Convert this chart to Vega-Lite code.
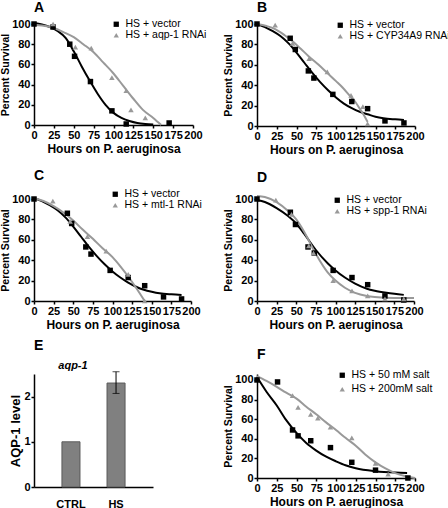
{
"$schema":"https://vega.github.io/schema/vega-lite/v6.json",
"padding":{"left":0,"top":1,"right":0,"bottom":0},
"background":"white",
"columns":2,
"spacing":{"row":73,"column":64},
"bounds":"flush",
"resolve":{"scale":{"color":"independent","shape":"independent","stroke":"independent","x":"independent","y":"independent"},"legend":{"color":"independent","shape":"independent","stroke":"independent"}},
"datasets":{
"dA":[
{"s":"HS + vector","k":"obs","x":0,"y":100},{"s":"HS + vector","k":"obs","x":24,"y":97},{"s":"HS + vector","k":"obs","x":45,"y":80},{"s":"HS + vector","k":"obs","x":51,"y":68},{"s":"HS + vector","k":"obs","x":71,"y":43},{"s":"HS + vector","k":"obs","x":98,"y":14},{"s":"HS + vector","k":"obs","x":116,"y":1},{"s":"HS + vector","k":"obs","x":170,"y":2},
{"s":"HS + aqp-1 RNAi","k":"obs","x":24,"y":100},{"s":"HS + aqp-1 RNAi","k":"obs","x":52,"y":77},{"s":"HS + aqp-1 RNAi","k":"obs","x":72,"y":76},{"s":"HS + aqp-1 RNAi","k":"obs","x":98,"y":47},{"s":"HS + aqp-1 RNAi","k":"obs","x":116,"y":34},{"s":"HS + aqp-1 RNAi","k":"obs","x":122,"y":15},{"s":"HS + aqp-1 RNAi","k":"obs","x":140,"y":7},
{"s":"HS + vector","k":"fit","x":0,"y":101},{"s":"HS + vector","k":"fit","x":10,"y":99.5},{"s":"HS + vector","k":"fit","x":20,"y":97},{"s":"HS + vector","k":"fit","x":30,"y":93},{"s":"HS + vector","k":"fit","x":40,"y":86},{"s":"HS + vector","k":"fit","x":50,"y":73},{"s":"HS + vector","k":"fit","x":60,"y":58},{"s":"HS + vector","k":"fit","x":70,"y":44},{"s":"HS + vector","k":"fit","x":80,"y":31},{"s":"HS + vector","k":"fit","x":90,"y":20},{"s":"HS + vector","k":"fit","x":100,"y":12},{"s":"HS + vector","k":"fit","x":110,"y":7},{"s":"HS + vector","k":"fit","x":120,"y":4},{"s":"HS + vector","k":"fit","x":130,"y":2},{"s":"HS + vector","k":"fit","x":140,"y":1},{"s":"HS + vector","k":"fit","x":150,"y":0.5},
{"s":"HS + aqp-1 RNAi","k":"fit","x":0,"y":99},{"s":"HS + aqp-1 RNAi","k":"fit","x":10,"y":98.5},{"s":"HS + aqp-1 RNAi","k":"fit","x":25,"y":96},{"s":"HS + aqp-1 RNAi","k":"fit","x":37,"y":92},{"s":"HS + aqp-1 RNAi","k":"fit","x":50,"y":87},{"s":"HS + aqp-1 RNAi","k":"fit","x":62,"y":80},{"s":"HS + aqp-1 RNAi","k":"fit","x":75,"y":72},{"s":"HS + aqp-1 RNAi","k":"fit","x":87,"y":62},{"s":"HS + aqp-1 RNAi","k":"fit","x":100,"y":51},{"s":"HS + aqp-1 RNAi","k":"fit","x":112,"y":39},{"s":"HS + aqp-1 RNAi","k":"fit","x":125,"y":26},{"s":"HS + aqp-1 RNAi","k":"fit","x":137,"y":15},{"s":"HS + aqp-1 RNAi","k":"fit","x":150,"y":7},{"s":"HS + aqp-1 RNAi","k":"fit","x":160,"y":0}
],
"dB":[
{"s":"HS + vector","k":"obs","x":0,"y":100},{"s":"HS + vector","k":"obs","x":42,"y":86},{"s":"HS + vector","k":"obs","x":48.5,"y":75},{"s":"HS + vector","k":"obs","x":65,"y":54},{"s":"HS + vector","k":"obs","x":72,"y":47},{"s":"HS + vector","k":"obs","x":96,"y":31},{"s":"HS + vector","k":"obs","x":120,"y":24},{"s":"HS + vector","k":"obs","x":140,"y":17},{"s":"HS + vector","k":"obs","x":162,"y":5},{"s":"HS + vector","k":"obs","x":186,"y":3},
{"s":"HS + CYP34A9 RNAi","k":"obs","x":23,"y":99},{"s":"HS + CYP34A9 RNAi","k":"obs","x":45,"y":81},{"s":"HS + CYP34A9 RNAi","k":"obs","x":66,"y":66},{"s":"HS + CYP34A9 RNAi","k":"obs","x":89,"y":53},{"s":"HS + CYP34A9 RNAi","k":"obs","x":119,"y":30},{"s":"HS + CYP34A9 RNAi","k":"obs","x":134,"y":19},{"s":"HS + CYP34A9 RNAi","k":"obs","x":140,"y":2},
{"s":"HS + vector","k":"fit","x":0,"y":100},{"s":"HS + vector","k":"fit","x":10,"y":97},{"s":"HS + vector","k":"fit","x":20,"y":93},{"s":"HS + vector","k":"fit","x":30,"y":88},{"s":"HS + vector","k":"fit","x":40,"y":81},{"s":"HS + vector","k":"fit","x":50,"y":72},{"s":"HS + vector","k":"fit","x":60,"y":62},{"s":"HS + vector","k":"fit","x":70,"y":52},{"s":"HS + vector","k":"fit","x":80,"y":43},{"s":"HS + vector","k":"fit","x":90,"y":35},{"s":"HS + vector","k":"fit","x":100,"y":28},{"s":"HS + vector","k":"fit","x":110,"y":22},{"s":"HS + vector","k":"fit","x":120,"y":17.5},{"s":"HS + vector","k":"fit","x":130,"y":14},{"s":"HS + vector","k":"fit","x":140,"y":11.5},{"s":"HS + vector","k":"fit","x":150,"y":9},{"s":"HS + vector","k":"fit","x":160,"y":7.5},{"s":"HS + vector","k":"fit","x":175,"y":6.5},{"s":"HS + vector","k":"fit","x":186,"y":6},
{"s":"HS + CYP34A9 RNAi","k":"fit","x":0,"y":100},{"s":"HS + CYP34A9 RNAi","k":"fit","x":12,"y":98},{"s":"HS + CYP34A9 RNAi","k":"fit","x":23,"y":95},{"s":"HS + CYP34A9 RNAi","k":"fit","x":35,"y":89},{"s":"HS + CYP34A9 RNAi","k":"fit","x":45,"y":83},{"s":"HS + CYP34A9 RNAi","k":"fit","x":55,"y":76},{"s":"HS + CYP34A9 RNAi","k":"fit","x":66,"y":68},{"s":"HS + CYP34A9 RNAi","k":"fit","x":78,"y":60},{"s":"HS + CYP34A9 RNAi","k":"fit","x":89,"y":52},{"s":"HS + CYP34A9 RNAi","k":"fit","x":100,"y":44},{"s":"HS + CYP34A9 RNAi","k":"fit","x":108,"y":38},{"s":"HS + CYP34A9 RNAi","k":"fit","x":117,"y":30},{"s":"HS + CYP34A9 RNAi","k":"fit","x":125,"y":23},{"s":"HS + CYP34A9 RNAi","k":"fit","x":130,"y":17},{"s":"HS + CYP34A9 RNAi","k":"fit","x":135,"y":11},{"s":"HS + CYP34A9 RNAi","k":"fit","x":140,"y":4}
],
"dC":[
{"s":"HS + vector","k":"obs","x":0,"y":100},{"s":"HS + vector","k":"obs","x":42.5,"y":86},{"s":"HS + vector","k":"obs","x":48,"y":76},{"s":"HS + vector","k":"obs","x":66,"y":53},{"s":"HS + vector","k":"obs","x":72.6,"y":46},{"s":"HS + vector","k":"obs","x":97,"y":30},{"s":"HS + vector","k":"obs","x":120,"y":23},{"s":"HS + vector","k":"obs","x":141,"y":15},{"s":"HS + vector","k":"obs","x":165,"y":4},{"s":"HS + vector","k":"obs","x":188,"y":2},
{"s":"HS + mtl-1 RNAi","k":"obs","x":24,"y":98},{"s":"HS + mtl-1 RNAi","k":"obs","x":46,"y":78},{"s":"HS + mtl-1 RNAi","k":"obs","x":68,"y":63},{"s":"HS + mtl-1 RNAi","k":"obs","x":92,"y":49},{"s":"HS + mtl-1 RNAi","k":"obs","x":120,"y":26},{"s":"HS + mtl-1 RNAi","k":"obs","x":141,"y":0},
{"s":"HS + vector","k":"fit","x":0,"y":101},{"s":"HS + vector","k":"fit","x":10,"y":98},{"s":"HS + vector","k":"fit","x":20,"y":94},{"s":"HS + vector","k":"fit","x":30,"y":89},{"s":"HS + vector","k":"fit","x":40,"y":82},{"s":"HS + vector","k":"fit","x":50,"y":73},{"s":"HS + vector","k":"fit","x":60,"y":63},{"s":"HS + vector","k":"fit","x":70,"y":53},{"s":"HS + vector","k":"fit","x":80,"y":44},{"s":"HS + vector","k":"fit","x":90,"y":36},{"s":"HS + vector","k":"fit","x":100,"y":29},{"s":"HS + vector","k":"fit","x":110,"y":23},{"s":"HS + vector","k":"fit","x":120,"y":18},{"s":"HS + vector","k":"fit","x":130,"y":14},{"s":"HS + vector","k":"fit","x":140,"y":11},{"s":"HS + vector","k":"fit","x":150,"y":9},{"s":"HS + vector","k":"fit","x":160,"y":7.5},{"s":"HS + vector","k":"fit","x":175,"y":6.5},{"s":"HS + vector","k":"fit","x":188,"y":6},
{"s":"HS + mtl-1 RNAi","k":"fit","x":0,"y":101},{"s":"HS + mtl-1 RNAi","k":"fit","x":12,"y":98},{"s":"HS + mtl-1 RNAi","k":"fit","x":25,"y":93},{"s":"HS + mtl-1 RNAi","k":"fit","x":37,"y":87},{"s":"HS + mtl-1 RNAi","k":"fit","x":50,"y":79},{"s":"HS + mtl-1 RNAi","k":"fit","x":62,"y":70},{"s":"HS + mtl-1 RNAi","k":"fit","x":75,"y":61},{"s":"HS + mtl-1 RNAi","k":"fit","x":87,"y":52},{"s":"HS + mtl-1 RNAi","k":"fit","x":100,"y":43},{"s":"HS + mtl-1 RNAi","k":"fit","x":110,"y":34},{"s":"HS + mtl-1 RNAi","k":"fit","x":120,"y":24},{"s":"HS + mtl-1 RNAi","k":"fit","x":130,"y":13},{"s":"HS + mtl-1 RNAi","k":"fit","x":141,"y":0}
],
"dD":[
{"s":"HS + vector","k":"obs","x":0,"y":100},{"s":"HS + vector","k":"obs","x":42.5,"y":87},{"s":"HS + vector","k":"obs","x":49,"y":75},{"s":"HS + vector","k":"obs","x":65,"y":53},{"s":"HS + vector","k":"obs","x":73,"y":47},{"s":"HS + vector","k":"obs","x":97,"y":30},{"s":"HS + vector","k":"obs","x":121,"y":23},{"s":"HS + vector","k":"obs","x":141,"y":16},{"s":"HS + vector","k":"obs","x":163,"y":5},{"s":"HS + vector","k":"obs","x":187,"y":1},
{"s":"HS + spp-1 RNAi","k":"obs","x":24,"y":99},{"s":"HS + spp-1 RNAi","k":"obs","x":44,"y":85},{"s":"HS + spp-1 RNAi","k":"obs","x":66,"y":54},{"s":"HS + spp-1 RNAi","k":"obs","x":72,"y":47},{"s":"HS + spp-1 RNAi","k":"obs","x":97,"y":20},{"s":"HS + spp-1 RNAi","k":"obs","x":121,"y":10},{"s":"HS + spp-1 RNAi","k":"obs","x":141,"y":5},{"s":"HS + spp-1 RNAi","k":"obs","x":163,"y":2},{"s":"HS + spp-1 RNAi","k":"obs","x":187,"y":2},
{"s":"HS + vector","k":"fit","x":0,"y":99},{"s":"HS + vector","k":"fit","x":10,"y":97},{"s":"HS + vector","k":"fit","x":25,"y":91},{"s":"HS + vector","k":"fit","x":40,"y":83},{"s":"HS + vector","k":"fit","x":50,"y":76},{"s":"HS + vector","k":"fit","x":60,"y":66},{"s":"HS + vector","k":"fit","x":75,"y":50},{"s":"HS + vector","k":"fit","x":90,"y":37},{"s":"HS + vector","k":"fit","x":100,"y":30},{"s":"HS + vector","k":"fit","x":112,"y":23},{"s":"HS + vector","k":"fit","x":125,"y":17},{"s":"HS + vector","k":"fit","x":140,"y":12},{"s":"HS + vector","k":"fit","x":150,"y":10},{"s":"HS + vector","k":"fit","x":165,"y":8},{"s":"HS + vector","k":"fit","x":175,"y":7},{"s":"HS + vector","k":"fit","x":187,"y":6},
{"s":"HS + spp-1 RNAi","k":"fit","x":0,"y":103},{"s":"HS + spp-1 RNAi","k":"fit","x":10,"y":102},{"s":"HS + spp-1 RNAi","k":"fit","x":25,"y":97},{"s":"HS + spp-1 RNAi","k":"fit","x":40,"y":88},{"s":"HS + spp-1 RNAi","k":"fit","x":50,"y":80},{"s":"HS + spp-1 RNAi","k":"fit","x":60,"y":68},{"s":"HS + spp-1 RNAi","k":"fit","x":75,"y":46},{"s":"HS + spp-1 RNAi","k":"fit","x":90,"y":28},{"s":"HS + spp-1 RNAi","k":"fit","x":100,"y":20},{"s":"HS + spp-1 RNAi","k":"fit","x":112,"y":13},{"s":"HS + spp-1 RNAi","k":"fit","x":125,"y":8},{"s":"HS + spp-1 RNAi","k":"fit","x":140,"y":5},{"s":"HS + spp-1 RNAi","k":"fit","x":150,"y":4},{"s":"HS + spp-1 RNAi","k":"fit","x":175,"y":3},{"s":"HS + spp-1 RNAi","k":"fit","x":200,"y":3}
],
"dF":[
{"s":"HS + 50 mM salt","k":"obs","x":0,"y":100},{"s":"HS + 50 mM salt","k":"obs","x":26,"y":98},{"s":"HS + 50 mM salt","k":"obs","x":45,"y":49},{"s":"HS + 50 mM salt","k":"obs","x":52,"y":43},{"s":"HS + 50 mM salt","k":"obs","x":68,"y":38},{"s":"HS + 50 mM salt","k":"obs","x":93,"y":31},{"s":"HS + 50 mM salt","k":"obs","x":120,"y":16},{"s":"HS + 50 mM salt","k":"obs","x":150,"y":8},{"s":"HS + 50 mM salt","k":"obs","x":191,"y":0},
{"s":"HS + 200mM salt","k":"obs","x":45,"y":84},{"s":"HS + 200mM salt","k":"obs","x":52,"y":72},{"s":"HS + 200mM salt","k":"obs","x":68,"y":65},{"s":"HS + 200mM salt","k":"obs","x":77,"y":61},{"s":"HS + 200mM salt","k":"obs","x":93,"y":52},{"s":"HS + 200mM salt","k":"obs","x":120,"y":41},{"s":"HS + 200mM salt","k":"obs","x":150,"y":15},{"s":"HS + 200mM salt","k":"obs","x":166,"y":4},
{"s":"HS + 50 mM salt","k":"fit","x":0,"y":103},{"s":"HS + 50 mM salt","k":"fit","x":12,"y":88},{"s":"HS + 50 mM salt","k":"fit","x":25,"y":74},{"s":"HS + 50 mM salt","k":"fit","x":37,"y":59},{"s":"HS + 50 mM salt","k":"fit","x":50,"y":46},{"s":"HS + 50 mM salt","k":"fit","x":62,"y":36},{"s":"HS + 50 mM salt","k":"fit","x":75,"y":28},{"s":"HS + 50 mM salt","k":"fit","x":87,"y":22},{"s":"HS + 50 mM salt","k":"fit","x":100,"y":17},{"s":"HS + 50 mM salt","k":"fit","x":112,"y":13},{"s":"HS + 50 mM salt","k":"fit","x":125,"y":10},{"s":"HS + 50 mM salt","k":"fit","x":150,"y":7},{"s":"HS + 50 mM salt","k":"fit","x":175,"y":5.5},{"s":"HS + 50 mM salt","k":"fit","x":190,"y":5},
{"s":"HS + 200mM salt","k":"fit","x":0,"y":104},{"s":"HS + 200mM salt","k":"fit","x":12,"y":99},{"s":"HS + 200mM salt","k":"fit","x":25,"y":93},{"s":"HS + 200mM salt","k":"fit","x":37,"y":87},{"s":"HS + 200mM salt","k":"fit","x":50,"y":81},{"s":"HS + 200mM salt","k":"fit","x":62,"y":73},{"s":"HS + 200mM salt","k":"fit","x":75,"y":65},{"s":"HS + 200mM salt","k":"fit","x":87,"y":57},{"s":"HS + 200mM salt","k":"fit","x":100,"y":49},{"s":"HS + 200mM salt","k":"fit","x":112,"y":41},{"s":"HS + 200mM salt","k":"fit","x":125,"y":33},{"s":"HS + 200mM salt","k":"fit","x":137,"y":24},{"s":"HS + 200mM salt","k":"fit","x":150,"y":16},{"s":"HS + 200mM salt","k":"fit","x":162,"y":10},{"s":"HS + 200mM salt","k":"fit","x":175,"y":5},{"s":"HS + 200mM salt","k":"fit","x":187,"y":2},{"s":"HS + 200mM salt","k":"fit","x":200,"y":0}
]
},
"concat":[
{"title":{"text":"A","offset":3},"width":159,"height":101,"data":{"name":"dA"},
 "encoding":{"x":{"field":"x","type":"quantitative","scale":{"domain":[0,200],"nice":false},"axis":{"values":[0,25,50,75,100,125,150,175,200],"title":"Hours on P. aeruginosa"}},
  "y":{"field":"y","type":"quantitative","scale":{"domain":[0,100],"nice":false},"axis":{"values":[0,20,40,60,80,100],"title":"Percent Survival"}}},
 "layer":[
  {"transform":[{"filter":"datum.k=='fit'"}],"mark":{"type":"line","interpolate":"monotone","strokeWidth":2},
   "encoding":{"stroke":{"field":"s","type":"nominal","scale":{"domain":["HS + aqp-1 RNAi","HS + vector"],"range":["#999999","#000000"]},"legend":null}}},
  {"transform":[{"filter":"datum.k=='obs'"}],"mark":{"type":"point","filled":true,"opacity":1,"size":30},
   "encoding":{"color":{"field":"s","type":"nominal","scale":{"domain":["HS + vector","HS + aqp-1 RNAi"],"range":["#000000","#999999"]},"legend":{"title":null,"orient":"none","legendX":77,"legendY":-5}},
    "shape":{"field":"s","type":"nominal","scale":{"domain":["HS + vector","HS + aqp-1 RNAi"],"range":["square","triangle-up"]},"legend":{"title":null,"orient":"none","legendX":77,"legendY":-5}}}}
 ]},
{"title":{"text":"B","offset":3},"width":158,"height":102,"data":{"name":"dB"},
 "encoding":{"x":{"field":"x","type":"quantitative","scale":{"domain":[0,200],"nice":false},"axis":{"values":[0,25,50,75,100,125,150,175,200],"title":"Hours on P. aeruginosa"}},
  "y":{"field":"y","type":"quantitative","scale":{"domain":[0,100],"nice":false},"axis":{"values":[0,20,40,60,80,100],"title":"Percent Survival"}}},
 "layer":[
  {"transform":[{"filter":"datum.k=='fit'"}],"mark":{"type":"line","interpolate":"monotone","strokeWidth":2},
   "encoding":{"stroke":{"field":"s","type":"nominal","scale":{"domain":["HS + CYP34A9 RNAi","HS + vector"],"range":["#999999","#000000"]},"legend":null}}},
  {"transform":[{"filter":"datum.k=='obs'"}],"mark":{"type":"point","filled":true,"opacity":1,"size":30},
   "encoding":{"color":{"field":"s","type":"nominal","scale":{"domain":["HS + vector","HS + CYP34A9 RNAi"],"range":["#000000","#999999"]},"legend":{"title":null,"orient":"none","legendX":78,"legendY":-4}},
    "shape":{"field":"s","type":"nominal","scale":{"domain":["HS + vector","HS + CYP34A9 RNAi"],"range":["square","triangle-up"]},"legend":{"title":null,"orient":"none","legendX":78,"legendY":-4}}}}
 ]},
{"title":{"text":"C","offset":6},"width":157,"height":102,"data":{"name":"dC"},
 "encoding":{"x":{"field":"x","type":"quantitative","scale":{"domain":[0,200],"nice":false},"axis":{"values":[0,25,50,75,100,125,150,175,200],"title":"Hours on P. aeruginosa"}},
  "y":{"field":"y","type":"quantitative","scale":{"domain":[0,100],"nice":false},"axis":{"values":[0,20,40,60,80,100],"title":"Percent Survival"}}},
 "layer":[
  {"transform":[{"filter":"datum.k=='fit'"}],"mark":{"type":"line","interpolate":"monotone","strokeWidth":2},
   "encoding":{"stroke":{"field":"s","type":"nominal","scale":{"domain":["HS + mtl-1 RNAi","HS + vector"],"range":["#999999","#000000"]},"legend":null}}},
  {"transform":[{"filter":"datum.k=='obs'"}],"mark":{"type":"point","filled":true,"opacity":1,"size":30},
   "encoding":{"color":{"field":"s","type":"nominal","scale":{"domain":["HS + vector","HS + mtl-1 RNAi"],"range":["#000000","#999999"]},"legend":{"title":null,"orient":"none","legendX":76,"legendY":-10}},
    "shape":{"field":"s","type":"nominal","scale":{"domain":["HS + vector","HS + mtl-1 RNAi"],"range":["square","triangle-up"]},"legend":{"title":null,"orient":"none","legendX":76,"legendY":-10}}}}
 ]},
{"title":{"text":"D","offset":7},"width":157,"height":102,"data":{"name":"dD"},
 "encoding":{"x":{"field":"x","type":"quantitative","scale":{"domain":[0,200],"nice":false},"axis":{"values":[0,25,50,75,100,125,150,175,200],"title":"Hours on P. aeruginosa"}},
  "y":{"field":"y","type":"quantitative","scale":{"domain":[0,100],"nice":false},"axis":{"values":[0,20,40,60,80,100],"title":"Percent Survival"}}},
 "layer":[
  {"transform":[{"filter":"datum.k=='fit'"}],"mark":{"type":"line","interpolate":"monotone","strokeWidth":2},
   "encoding":{"stroke":{"field":"s","type":"nominal","scale":{"domain":["HS + spp-1 RNAi","HS + vector"],"range":["#999999","#000000"]},"legend":null}}},
  {"transform":[{"filter":"datum.k=='obs'"}],"mark":{"type":"point","filled":true,"opacity":1,"size":30},
   "encoding":{"color":{"field":"s","type":"nominal","scale":{"domain":["HS + vector","HS + spp-1 RNAi"],"range":["#000000","#999999"]},"legend":{"title":null,"orient":"none","legendX":75,"legendY":-4}},
    "shape":{"field":"s","type":"nominal","scale":{"domain":["HS + vector","HS + spp-1 RNAi"],"range":["square","triangle-up"]},"legend":{"title":null,"orient":"none","legendX":75,"legendY":-4}}}}
 ]},
{"title":{"text":"E","offset":7},"width":119,"height":113,
 "layer":[
  {"data":{"values":[{"cat":"CTRL","v":1},{"cat":"HS","v":2.3}]},
   "mark":{"type":"bar","fill":"#808080","stroke":"#5a5a5a","strokeWidth":1},
   "encoding":{"x":{"field":"cat","type":"nominal","sort":null,"scale":{"paddingInner":0.6,"paddingOuter":0.62},"axis":{"title":null,"ticks":false,"labelPadding":11,"labelAngle":0}},
    "y":{"field":"v","type":"quantitative","scale":{"domain":[0,2.5],"nice":false},"axis":{"values":[0,0.5,1,1.5,2,2.5],"title":"AQP-1 level","titleFontSize":13,"labelExpr":"'' + datum.value"}}}},
  {"data":{"values":[{"cat":"HS","lo":2.07,"hi":2.55}]},
   "mark":{"type":"rule","color":"black","strokeWidth":1},
   "encoding":{"x":{"field":"cat","type":"nominal"},"y":{"field":"lo","type":"quantitative"},"y2":{"field":"hi"}}},
  {"data":{"values":[{"cat":"HS","e":2.07},{"cat":"HS","e":2.55}]},
   "mark":{"type":"tick","color":"black","size":7,"thickness":1,"orient":"horizontal"},
   "encoding":{"x":{"field":"cat","type":"nominal"},"y":{"field":"e","type":"quantitative"}}},
  {"data":{"values":[{"cat":"CTRL","v":2.68,"label":"aqp-1"}]},
   "mark":{"type":"text","fontStyle":"italic","fontWeight":"bold","fontSize":11,"dx":2,"color":"black"},
   "encoding":{"x":{"field":"cat","type":"nominal"},"y":{"field":"v","type":"quantitative"},"text":{"field":"label"}}}
 ]},
{"title":{"text":"F","offset":8},"width":158,"height":104,"data":{"name":"dF"},
 "encoding":{"x":{"field":"x","type":"quantitative","scale":{"domain":[0,200],"nice":false},"axis":{"values":[0,25,50,75,100,125,150,175,200],"title":"Hours on P. aeruginosa"}},
  "y":{"field":"y","type":"quantitative","scale":{"domain":[0,106.1],"nice":false},"axis":{"values":[0,20,40,60,80,100],"title":"Percent Survival"}}},
 "layer":[
  {"transform":[{"filter":"datum.k=='fit'"}],"mark":{"type":"line","interpolate":"monotone","strokeWidth":2},
   "encoding":{"stroke":{"field":"s","type":"nominal","scale":{"domain":["HS + 200mM salt","HS + 50 mM salt"],"range":["#999999","#000000"]},"legend":null}}},
  {"transform":[{"filter":"datum.k=='obs'"}],"mark":{"type":"point","filled":true,"opacity":1,"size":30},
   "encoding":{"color":{"field":"s","type":"nominal","scale":{"domain":["HS + 50 mM salt","HS + 200mM salt"],"range":["#000000","#999999"]},"legend":{"title":null,"orient":"none","legendX":80,"legendY":-4,"rowPadding":3}},
    "shape":{"field":"s","type":"nominal","scale":{"domain":["HS + 50 mM salt","HS + 200mM salt"],"range":["square","triangle-up"]},"legend":{"title":null,"orient":"none","legendX":80,"legendY":-4,"rowPadding":3}}}}
 ]}
],
"config":{
 "font":"Liberation Sans",
 "view":{"stroke":null},
 "axis":{"grid":false,"domainColor":"black","domainWidth":1.5,"tickColor":"black","tickSize":3,"tickWidth":1.5,"labelColor":"black","labelFont":"Liberation Sans","labelFontSize":11,"labelFontWeight":"bold","labelPadding":1,"labelOverlap":false,"labelFlush":false,"titleColor":"black","titleFont":"Liberation Sans","titleFontSize":12,"titleFontWeight":"bold","titlePadding":3},
 "axisY":{"titlePadding":1,"titleFontSize":10.5},
 "title":{"anchor":"start","frame":"group","fontSize":14,"fontWeight":"bold","color":"black","font":"Liberation Sans"},
 "legend":{"labelFont":"Liberation Sans","labelFontSize":10.5,"labelColor":"black","symbolSize":28,"rowPadding":-0.5,"labelOffset":4,"padding":0,"symbolStrokeWidth":0,"labelLimit":200}
}
}
